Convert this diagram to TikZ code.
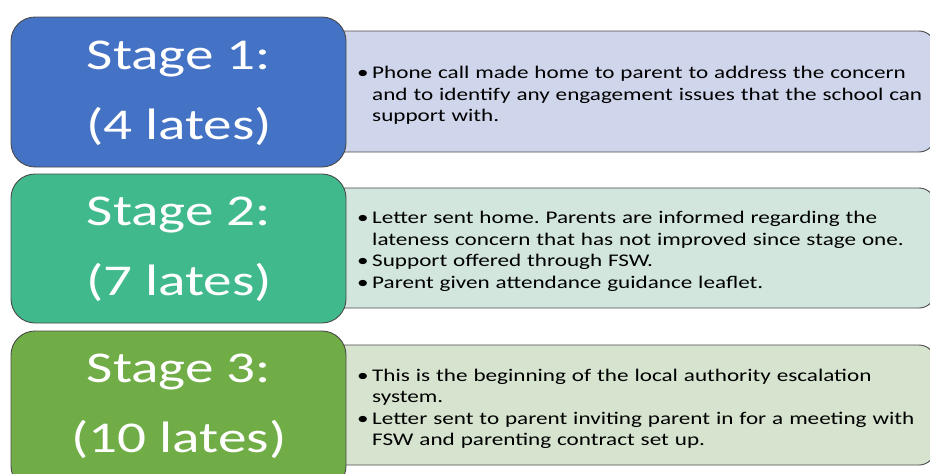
\documentclass[tikz,border=0pt]{standalone}
\usepackage{fontspec}
\setmainfont[FakeStretch=1.3]{Carlito}
\frenchspacing
\definecolor{sblue}{HTML}{4472C4}
\definecolor{steal}{HTML}{40BA8C}
\definecolor{sgreen}{HTML}{70AD47}
\definecolor{rblue}{HTML}{CFD5EA}
\definecolor{rteal}{HTML}{D2E6DE}
\definecolor{rgreen}{HTML}{D5E3CF}
\definecolor{edge}{HTML}{4A4A4A}
\newenvironment{blist}{\begin{list}{\textbullet}{\leftmargin=15pt\labelwidth=15pt\labelsep=0pt\def\makelabel##1{##1\hfil}\itemsep=0pt\topsep=0pt\parsep=0pt\partopsep=0pt}}{\end{list}}
\begin{document}
\begin{tikzpicture}[x=1pt,y=-1pt,
  stagebox/.style={draw=edge,line width=0.9pt,rounded corners=24pt},
  infobox/.style={draw=edge,line width=0.9pt,rounded corners=16pt},
  stagetext/.style={text=white,font=\fontsize{44}{70}\selectfont,align=center},
  infotext/.style={anchor=west,text width=600pt,align=left,font=\fontsize{17.8}{21.5}\selectfont,inner sep=0pt}]
\useasboundingbox (0,0) rectangle (930,474);
\clip (0,0) rectangle (930,474);
% right boxes
\draw[infobox,fill=rblue] (300,31) rectangle (935,152);
\draw[infobox,fill=rteal] (300,188) rectangle (935,308);
\draw[infobox,fill=rgreen] (300,345) rectangle (935,465);
% left boxes
\draw[stagebox,fill=sblue] (11,17) rectangle (346,167);
\draw[stagebox,fill=steal] (11,174) rectangle (346,323);
\draw[stagebox,fill=sgreen] (11,331) rectangle (346,490);
\node[stagetext] (s1) at (179,93) {Stage 1:\\(4 lates)};
\node[stagetext] (s2) at (179,249.5) {Stage 2:\\(7 lates)};
\node[stagetext] (s3) at (179,406.5) {Stage 3:\\(10 lates)};
\node[infotext] (t1) at (357,91) {\begin{blist}\item Phone call made home to parent to address the concern\\ and to identify any engagement issues that the school can\\ support with.\end{blist}};
\node[infotext] (t2) at (357,247) {\begin{blist}\item Letter sent home. Parents are informed regarding the\\ lateness concern that has not improved since stage one.\item Support offered through FSW.\item Parent given attendance guidance leaflet.\end{blist}};
\node[infotext] (t3) at (357,404.5) {\begin{blist}\item This is the beginning of the local authority escalation\\ system.\item Letter sent to parent inviting parent in for a meeting with\\ FSW and parenting contract set up.\end{blist}};
\end{tikzpicture}
\end{document}
